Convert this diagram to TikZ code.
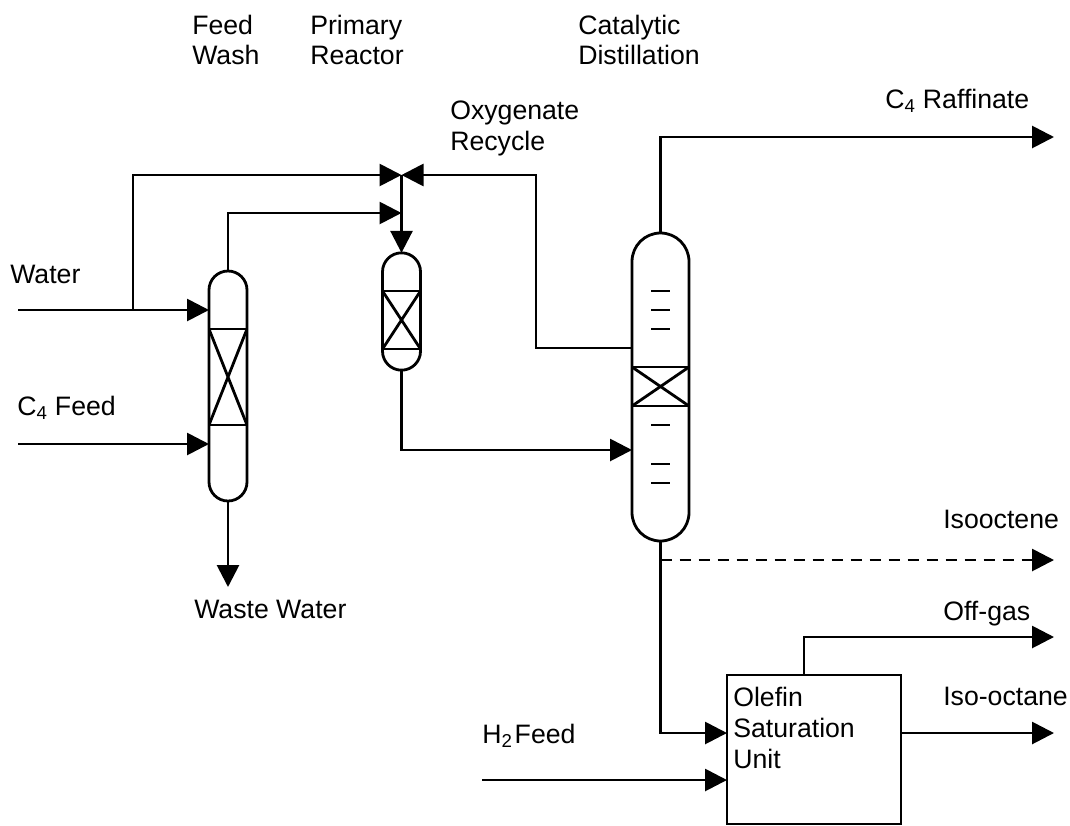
\documentclass[tikz,border=0pt]{standalone}
\usepackage{fontspec}
\setmainfont{Liberation Sans}
\usetikzlibrary{arrows.meta}
\tikzset{
  stream/.style={line width=2.1pt,-{Triangle[length=16.5pt,width=16.5pt]}},
  pipe/.style={line width=2.1pt},
  vessel/.style={draw,line width=2.1pt,outer sep=0pt,inner sep=0pt,minimum width=#1*0.75pt,rounded corners=#1*0.375pt},
  vessel/.default=38,
  packing/.style={draw,line width=2.1pt,outer sep=0pt,inner sep=0pt,
    path picture={\draw[line width=2.1pt] (path picture bounding box.north west) -- (path picture bounding box.south east)
      (path picture bounding box.north east) -- (path picture bounding box.south west);}},
  label/.style={anchor=west,inner sep=0pt,align=left,font=\fontsize{20}{22.5}\selectfont},
}
\begin{document}
\begin{tikzpicture}[x=0.75pt,y=-0.75pt]
  \useasboundingbox (0,0) rectangle (1070,825);
  % vessels
  \node[vessel,minimum height=172.5pt] (wash) at (228,386) {};
  \node[packing,minimum width=28.5pt,minimum height=72pt] (washbed) at (228,377) {};
  \node[vessel,minimum height=88pt] (reactor) at (401.5,311.5) {};
  \node[packing,minimum width=28.5pt,minimum height=43.5pt] (reactorbed) at (401.5,320) {};
  \node[vessel=57,minimum height=231pt] (column) at (660.5,387) {};
  \node[packing,minimum width=42.75pt,minimum height=29.25pt] (columnbed) at (660.5,386.5) {};
  \foreach \y in {291,310,329,425,464,483}
    \draw[pipe] (651,\y) -- (670,\y);
  \node[draw,line width=2.1pt,outer sep=0pt,minimum width=130.5pt,minimum height=111.75pt] (unit) at (814,749.5) {};
  % stream ends
  \coordinate (waterin) at (18,310);
  \coordinate (branch) at (133,310);
  \coordinate (c4in) at (18,444);
  \coordinate (valve) at (401.5,175);
  \coordinate (washout) at (401.5,213);
  \coordinate (recycle) at (536,348);
  \coordinate (reactorout) at (632,450);
  \coordinate (wastewater) at (228,587);
  \coordinate (raffinate) at (1054,137);
  \coordinate (isooctene) at (1054,560);
  \coordinate (offgas) at (1054,637);
  \coordinate (offgasstart) at (804,675);
  \coordinate (isooctane) at (1054,733);
  \coordinate (satin) at (727,733);
  \coordinate (h2in) at (482,780);
  % streams
  \draw[stream] (waterin) -- (waterin -| wash.west);
  \draw[stream] (c4in) -- (c4in -| wash.west);
  \draw[stream] (branch) |- (valve);
  \draw[stream] (wash.north) |- (washout);
  \draw[stream] (wash.south) -- (wastewater);
  \draw[stream] (recycle -| column.west) -- (recycle) |- (valve);
  \draw[stream] (valve) -- (reactor.north);
  \draw[stream] (reactor.south) |- (reactorout);
  \draw[stream] (column.north) |- (raffinate);
  \draw[stream,dash pattern=on 8.5pt off 5.75pt] (column.south |- isooctene) -- (isooctene);
  \draw[stream] (column.south) |- (satin);
  \draw[stream] (h2in) -- (h2in -| unit.west);
  \draw[stream] (offgasstart) |- (offgas);
  \draw[stream] (isooctane -| unit.east) -- (isooctane);
  % labels
  \node[label] (washlabel) at (192,40) {Feed\\Wash};
  \node[label] (reactorlabel) at (310,40) {Primary\\Reactor};
  \node[label] (columnlabel) at (578,40) {Catalytic\\Distillation};
  \node[label,font=\fontsize{20}{23.2}\selectfont] (recyclelabel) at (450,128) {Oxygenate\\Recycle};
  \node[label] (raffinatelabel) at (885,101) {C\textsubscript{4} Raffinate};
  \node[label] (waterlabel) at (10,274) {Water};
  \node[label] (c4label) at (17,408) {C\textsubscript{4} Feed};
  \node[label] (wastelabel) at (194,609) {Waste Water};
  \node[label] (isooctenelabel) at (943,519) {Isooctene};
  \node[label] (offgaslabel) at (943,614) {Off-gas};
  \node[label] (isooctanelabel) at (943,696) {Iso-octane};
  \node[label] (h2label) at (482,736) {H\textsubscript{2}\hspace{0.08em}Feed};
  \node[label,font=\fontsize{20}{23.2}\selectfont] (unitlabel) at (733,728) {Olefin\\Saturation\\Unit};
\end{tikzpicture}
\end{document}
